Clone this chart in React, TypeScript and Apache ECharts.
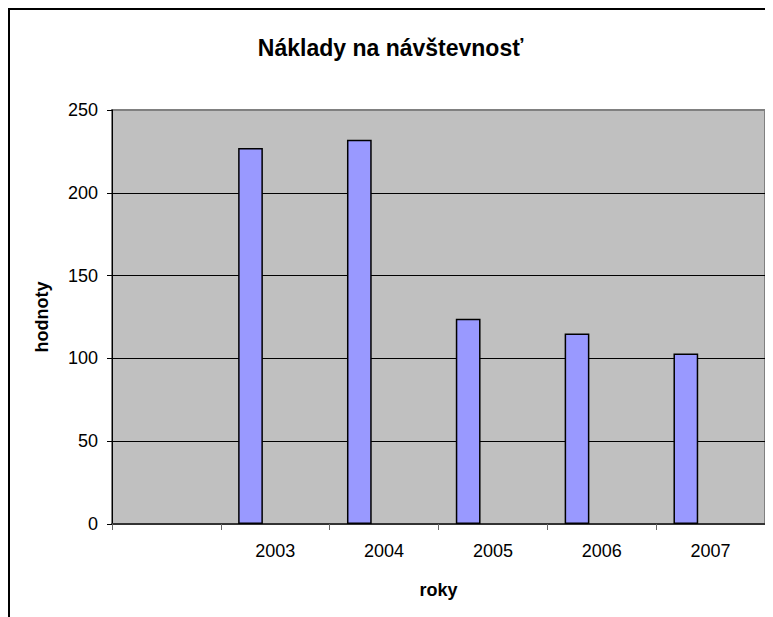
import React, { useEffect, useRef } from "react";
import * as echarts from "echarts";

const categories = ["", "2003", "2004", "2005", "2006", "2007"];
const values = [null, 227, 232, 124, 115, 103];
const emptySeries = [null, null, null, null, null, null];
const yTicks = { min: 0, max: 250, interval: 50 };

const titleText = "Náklady na návštevnosť";
const yName = "hodnoty";
const xName = "roky";

export default function App() {
  const ref = useRef<HTMLDivElement>(null);
  useEffect(() => {
    if (!ref.current) return;
    const chart = echarts.init(ref.current, null, { renderer: "svg" });
    const font = "'Liberation Sans', Arial, sans-serif";
    chart.setOption({
      animation: false,
      backgroundColor: "#ffffff",
      title: {
        text: titleText,
        left: "center",
        top: 23,
        textStyle: { fontFamily: font, fontSize: 23, fontWeight: "bold", color: "#000" },
      },
      grid: {
        left: 104,
        top: 102,
        width: 653,
        height: 414,
        show: true,
        backgroundColor: "#C0C0C0",
        borderColor: "#808080",
        borderWidth: 2,
      },
      xAxis: {
        type: "category",
        data: categories,
        boundaryGap: true,
        name: xName,
        nameLocation: "middle",
        nameGap: 57,
        nameTextStyle: { fontFamily: font, fontSize: 18, fontWeight: "bold", color: "#000" },
        axisLine: { lineStyle: { color: "#333", width: 2 } },
        axisTick: { show: true, inside: false, length: 6, alignWithLabel: false, lineStyle: { color: "#666", width: 1 } },
        axisLabel: { fontFamily: font, fontSize: 18, color: "#000", margin: 18, interval: 0 },
        splitLine: { show: false },
      },
      yAxis: {
        type: "value",
        min: yTicks.min,
        max: yTicks.max,
        interval: yTicks.interval,
        name: yName,
        nameLocation: "middle",
        nameGap: 61,
        nameRotate: 90,
        nameTextStyle: { fontFamily: font, fontSize: 18, fontWeight: "bold", color: "#000" },
        axisLine: { show: true, lineStyle: { color: "#000", width: 1 } },
        axisTick: { show: true, inside: false, length: 5, lineStyle: { color: "#000", width: 1 } },
        axisLabel: { fontFamily: font, fontSize: 18, color: "#000", margin: 14 },
        splitLine: {
          show: true,
          lineStyle: { color: ["#000", "#000", "#000", "#000", "#000", "#808080"], width: 1 },
        },
      },
      series: [
        {
          type: "bar",
          data: values,
          barGap: "0%",
          barCategoryGap: "31.8%",
          itemStyle: { color: "#9999FF", borderColor: "#000", borderWidth: 1.5 },
        },
        { type: "bar", data: emptySeries, itemStyle: { color: "#993366" } },
        { type: "bar", data: emptySeries, itemStyle: { color: "#FFFFCC" } },
      ],
      graphic: [
        { type: "line", shape: { x1: 1, y1: 0, x2: 1, y2: 700 }, style: { stroke: "#000", lineWidth: 2 } },
        { type: "line", shape: { x1: 0, y1: 1, x2: 800, y2: 1 }, style: { stroke: "#000", lineWidth: 2 } },
      ],
    });
    return () => chart.dispose();
  }, []);
  return <div ref={ref} style={{ width: 765, height: 609 }} />;
}
